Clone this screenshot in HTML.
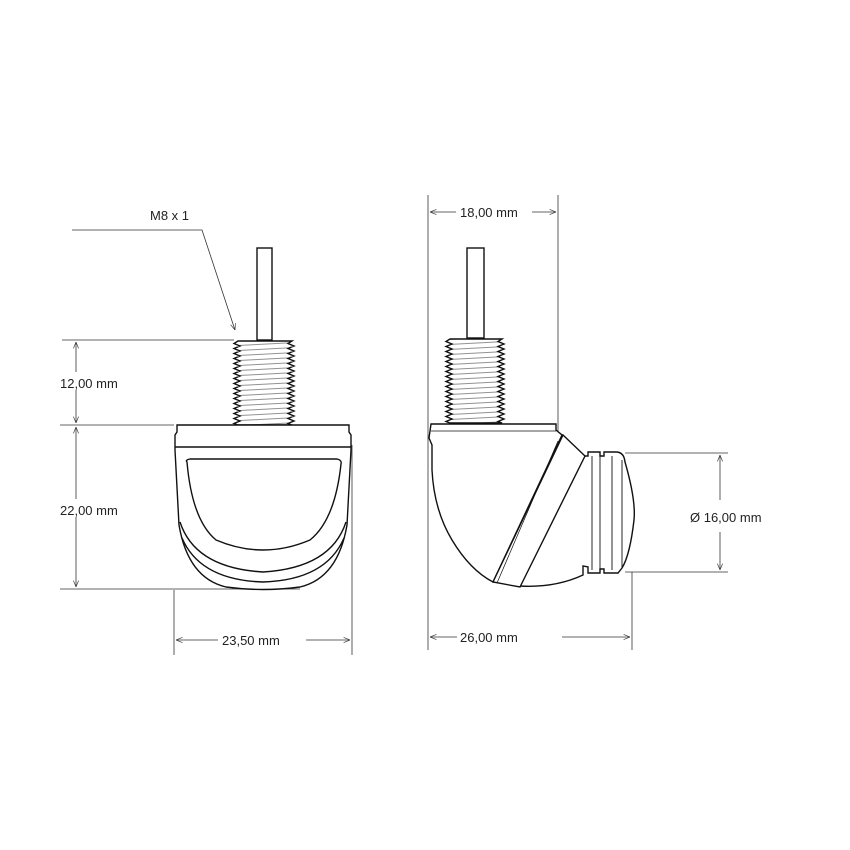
<!DOCTYPE html>
<html><head><style>body{margin:0;background:#fff}svg{display:block}text{font-family:"Liberation Sans",sans-serif;font-size:13px;fill:#222}</style></head>
<body>
<svg width="850" height="850" viewBox="0 0 850 850" xmlns="http://www.w3.org/2000/svg">
<defs>
<marker id="a" viewBox="0 0 10 10" refX="10" refY="5" markerWidth="8" markerHeight="8" orient="auto-start-reverse"><path d="M0,1 L10,5 L0,9" fill="none" stroke="#333" stroke-width="1"/></marker>
<pattern id="h" width="10" height="5" patternUnits="userSpaceOnUse" patternTransform="rotate(-3)"><line x1="0" y1="2.5" x2="10" y2="2.5" stroke="#777" stroke-width="0.8"/></pattern>
</defs>
<g stroke="#333" stroke-width="0.8" fill="none">
<path d="M72 230 H202 L235 330" marker-end="url(#a)"/>
<line x1="62" y1="340" x2="234" y2="340"/>
<line x1="60" y1="425" x2="174" y2="425"/>
<line x1="60" y1="589" x2="300" y2="589"/>
<line x1="76" y1="342" x2="76" y2="423" marker-start="url(#a)" marker-end="url(#a)"/>
<line x1="76" y1="427" x2="76" y2="587" marker-start="url(#a)" marker-end="url(#a)"/>
<line x1="174" y1="590" x2="174" y2="655"/>
<line x1="352" y1="445" x2="352" y2="655"/>
<line x1="176" y1="640" x2="218" y2="640" marker-start="url(#a)"/>
<line x1="306" y1="640" x2="350" y2="640" marker-end="url(#a)"/>
<line x1="428" y1="195" x2="428" y2="650"/>
<line x1="558" y1="195" x2="558" y2="435"/>
<line x1="430" y1="212" x2="456" y2="212" marker-start="url(#a)"/>
<line x1="532" y1="212" x2="556" y2="212" marker-end="url(#a)"/>
<line x1="625" y1="453" x2="728" y2="453"/>
<line x1="625" y1="572" x2="728" y2="572"/>
<line x1="720" y1="455" x2="720" y2="500" marker-start="url(#a)"/>
<line x1="720" y1="532" x2="720" y2="570" marker-end="url(#a)"/>
<line x1="632" y1="572" x2="632" y2="650"/>
<line x1="430" y1="637" x2="457" y2="637" marker-start="url(#a)"/>
<line x1="562" y1="637" x2="630" y2="637" marker-end="url(#a)"/>
</g>
<rect x="58" y="372" width="75" height="18" fill="#fff"/>
<rect x="58" y="499" width="75" height="18" fill="#fff"/>
<text x="150" y="220">M8 x 1</text>
<text x="60" y="388">12,00 mm</text>
<text x="60" y="515">22,00 mm</text>
<text x="222" y="645">23,50 mm</text>
<text x="460" y="217">18,00 mm</text>
<text x="690" y="522">Ø 16,00 mm</text>
<text x="460" y="642">26,00 mm</text>

<g stroke="#111" stroke-width="1.4" fill="#fff">
<rect x="257" y="248" width="15" height="92"/>
<path fill="url(#h)" d="M238 341 l-4 2.5 l6 2.5 l-6 2.5 l6 2.5 l-6 2.5 l6 2.5 l-6 2.5 l6 2.5 l-6 2.5 l6 2.5 l-6 2.5 l6 2.5 l-6 2.5 l6 2.5 l-6 2.5 l6 2.5 l-6 2.5 l6 2.5 l-6 2.5 l6 2.5 l-6 2.5 l6 2.5 l-6 2.5 l6 2.5 l-6 2.5 l6 2.5 l-6 2.5 l6 2.5 l-6 2.5 l6 2.5 l-6 2.5 l6 2.5 l-6 2.5 l4 1.5 H292 l-4 -1.5 l6 -2.5 l-6 -2.5 l6 -2.5 l-6 -2.5 l6 -2.5 l-6 -2.5 l6 -2.5 l-6 -2.5 l6 -2.5 l-6 -2.5 l6 -2.5 l-6 -2.5 l6 -2.5 l-6 -2.5 l6 -2.5 l-6 -2.5 l6 -2.5 l-6 -2.5 l6 -2.5 l-6 -2.5 l6 -2.5 l-6 -2.5 l6 -2.5 l-6 -2.5 l6 -2.5 l-6 -2.5 l6 -2.5 l-6 -2.5 l6 -2.5 l-6 -2.5 l6 -2.5 l-6 -2.5 l4 -2.5 Z"/>
<path d="M177 425 H349 V432 L351 435 V450 L347 525 Q338 578 300 587 Q263 592 226 587 Q188 578 179 525 L175 450 V435 L177 432 Z"/>
<line x1="175" y1="447" x2="351" y2="447"/>
<path d="M187 462 Q185 460 190 459 H337 Q342 460 341 464 Q335 520 310 540 Q263 560 216 540 Q192 520 187 462 Z"/>
<path d="M180 522 Q195 568 263 572 Q331 568 346 522" fill="none"/>
<path d="M182 538 Q200 580 263 582 Q326 580 344 538" fill="none"/>
<rect x="467" y="248" width="17" height="90"/>
<path fill="url(#h)" d="M450 339 l-4 2.5 l6 2.5 l-6 2.5 l6 2.5 l-6 2.5 l6 2.5 l-6 2.5 l6 2.5 l-6 2.5 l6 2.5 l-6 2.5 l6 2.5 l-6 2.5 l6 2.5 l-6 2.5 l6 2.5 l-6 2.5 l6 2.5 l-6 2.5 l6 2.5 l-6 2.5 l6 2.5 l-6 2.5 l6 2.5 l-6 2.5 l6 2.5 l-6 2.5 l6 2.5 l-6 2.5 l6 2.5 l-6 2.5 l6 2.5 l-6 2.5 l4 1.5 H502 l-4 -1.5 l6 -2.5 l-6 -2.5 l6 -2.5 l-6 -2.5 l6 -2.5 l-6 -2.5 l6 -2.5 l-6 -2.5 l6 -2.5 l-6 -2.5 l6 -2.5 l-6 -2.5 l6 -2.5 l-6 -2.5 l6 -2.5 l-6 -2.5 l6 -2.5 l-6 -2.5 l6 -2.5 l-6 -2.5 l6 -2.5 l-6 -2.5 l6 -2.5 l-6 -2.5 l6 -2.5 l-6 -2.5 l6 -2.5 l-6 -2.5 l6 -2.5 l-6 -2.5 l6 -2.5 l-6 -2.5 l4 -2.5 Z"/>
<path d="M584 456 H588 V452 H600 V456 H604 V452 H616 Q624 452 625 462 Q636 500 634 520 Q630 555 622 568 L618 573 H604 V569 H600 V573 H588 V567 L583 566 V575 Q555 588 520 586 Z"/>
<g fill="none" stroke-width="0.9">
<line x1="592" y1="456" x2="592" y2="570"/><line x1="600" y1="456" x2="600" y2="570"/><line x1="612" y1="456" x2="612" y2="570"/><line x1="622" y1="460" x2="622" y2="568"/>
</g>
<path d="M431 424 H556 V430 L562 435 L493 582 Q470 570 452 540 Q434 510 432 470 L432 445 L429 438 Z"/>
<path d="M563 435 L585 456 L520 587 L493 582 Z"/>
<line x1="558" y1="441" x2="497" y2="583" stroke-width="0.7"/>
<line x1="431" y1="431" x2="556" y2="431" stroke-width="0.7"/>
</g>
</svg>
</body></html>
